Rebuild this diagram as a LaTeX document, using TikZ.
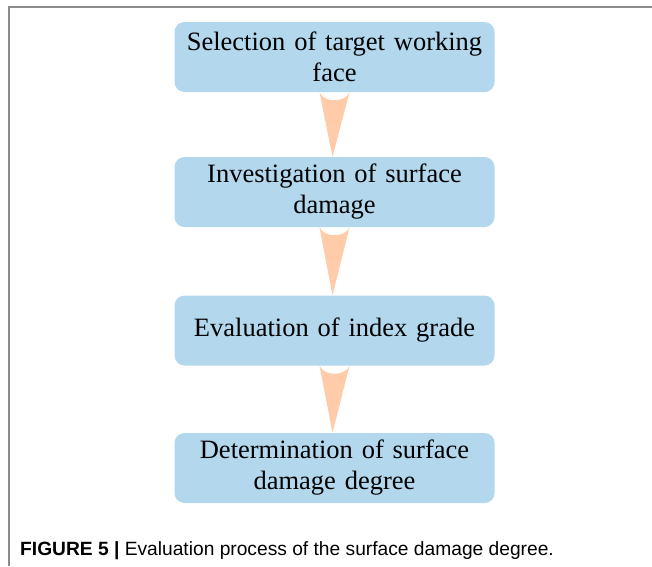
\documentclass[tikz,border=0pt]{standalone}
\usepackage{fontspec}
\setmainfont{Liberation Serif}
\newfontfamily\capfont{Liberation Sans}
\usetikzlibrary{positioning}
\definecolor{boxblue}{HTML}{B3D7EC}
\definecolor{peach}{HTML}{FFCBA8}
\definecolor{framegray}{HTML}{8C8C8C}
\tikzset{
  stepbox/.style={rectangle, rounded corners=10pt, fill=boxblue,
    minimum width=320pt, minimum height=70pt, text width=310pt, align=center,
    font=\fontsize{26.5}{31}\selectfont, inner sep=0pt},
  flowarrow/.style={fill=peach, draw=none}
}
\newcommand{\flowarr}[2]{%
  \fill[flowarrow] ([xshift=-15pt]#1.south) .. controls +(4pt,-10.7pt) and +(-4pt,-10.7pt) .. ([xshift=15pt]#1.south) -- ([xshift=-2pt]#2.north) -- cycle;}

\begin{document}
\begin{tikzpicture}[x=1pt,y=1pt]
        \useasboundingbox (0,0) rectangle (652,-566);
        \draw[framegray, line width=1.2pt] (9,-566) -- (9,-7) -- (652,-7);

        \path
        (334.5,-57) node[stepbox](sel) {Selection of target working\\face}
        (334.5,-192) node[stepbox](inv) {Investigation of surface\\damage}
        (334.5,-330.5) node[stepbox](eva) {Evaluation of index grade}
        (334.5,-468) node[stepbox](det) {Determination of surface\\damage degree}
        ;
        \flowarr{sel}{inv}
        \flowarr{inv}{eva}
        \flowarr{eva}{det}

        \node[anchor=base west, inner sep=0pt, font=\capfont\fontsize{19.2}{22}\selectfont] (cap) at (20,-555)
          {\textbf{FIGURE 5 |} Evaluation process of the surface damage degree.};
      \end{tikzpicture}
\end{document}
